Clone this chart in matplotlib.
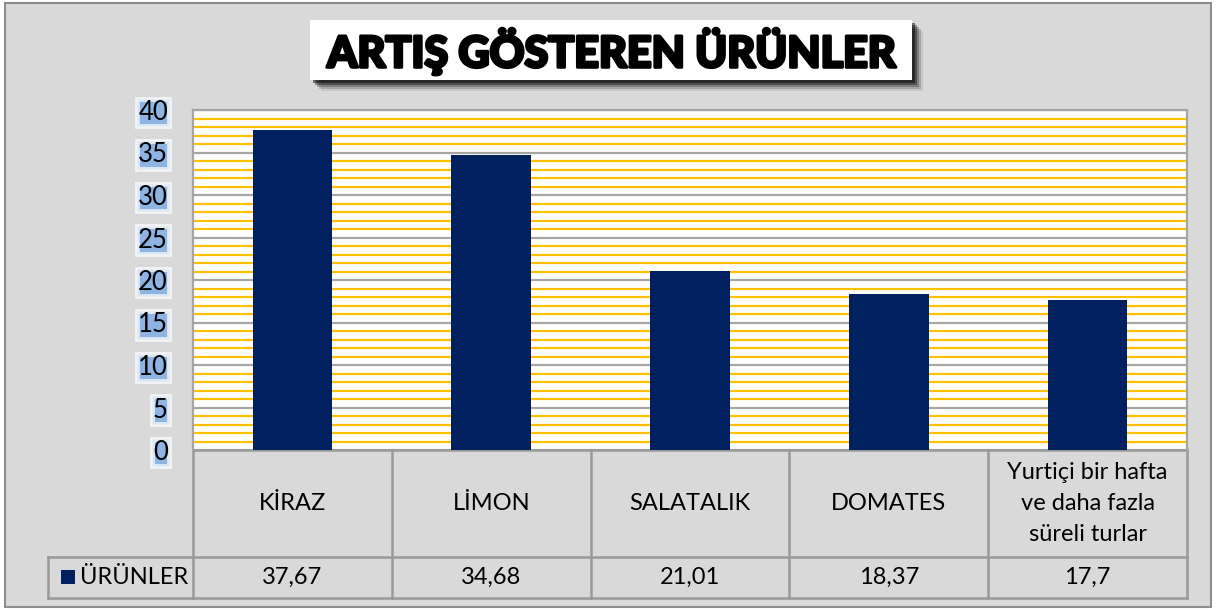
import matplotlib
matplotlib.use("Agg")
import matplotlib.pyplot as plt
import matplotlib.transforms as mtransforms
import matplotlib.patheffects as pe
from matplotlib.patches import Rectangle
from matplotlib.ticker import MultipleLocator

categories = ["KİRAZ", "LİMON", "SALATALIK", "DOMATES", "Yurtiçi bir hafta\nve daha fazla\nsüreli turlar"]
values = [37.67, 34.68, 21.01, 18.37, 17.7]
value_labels = ["37,67", "34,68", "21,01", "18,37", "17,7"]
series_name = "ÜRÜNLER"
title = "ARTIŞ GÖSTEREN ÜRÜNLER"
yticks = [0, 5, 10, 15, 20, 25, 30, 35, 40]

W, H = 1216, 612
BAR = "#002060"
BG = "#d9d9d9"
GRID = "#a6a6a6"
YEL = "#ffc000"
FONT = "Lato"

fig = plt.figure(figsize=(W / 100, H / 100), dpi=100)
fig.patch.set_facecolor("white")

def fx(px):
    return px / W

def fy(py):
    return 1 - py / H

# outer background frame
fig.patches.append(Rectangle((fx(5), fy(607)), fx(1211) - fx(5), fy(3) - fy(607),
                             transform=fig.transFigure, facecolor=BG, edgecolor="#8c8c8c",
                             linewidth=1.5, zorder=-10))

# plot area
L, R, T, B = 193, 1187, 110, 450
ax = fig.add_axes([fx(L), fy(B), fx(R) - fx(L), fy(T) - fy(B)])
ax.set_zorder(5)
ax.set_facecolor("white")
x = list(range(len(categories)))
ax.bar(x, values, width=0.4, color=BAR, zorder=3)
ax.set_xlim(-0.5, len(categories) - 0.5)
ax.set_ylim(0, 40)
ax.yaxis.set_major_locator(MultipleLocator(5))
ax.yaxis.set_minor_locator(MultipleLocator(1))
ax.grid(which="minor", axis="y", color=YEL, linewidth=1.6, zorder=1)
ax.grid(which="major", axis="y", color=GRID, linewidth=1.6, zorder=2)
ax.set_axisbelow(True)
ax.set_xticks([])
ax.set_yticks(yticks)
ax.tick_params(axis="y", which="both", length=0, pad=18)
for lab in ax.get_yticklabels():
    lab.set_fontfamily(FONT)
    lab.set_fontsize(18.5)
    lab.set_color("black")
    lab.set_bbox(dict(facecolor="#8db4e2", edgecolor=(1, 1, 1, 0.7), linewidth=3.5, pad=1.0))
for s in ["top", "left", "right"]:
    ax.spines[s].set_color(GRID)
    ax.spines[s].set_linewidth(1.6)
ax.spines["bottom"].set_visible(False)

# data table under axis
trans = mtransforms.blended_transform_factory(ax.transData, fig.transFigure)
row1_top, row1_bot, row2_bot = 450, 557, 598
leg_left = 48
lc = "#999999"
lw = 1.8
n = len(categories)
TFS = 17
ax.add_line(plt.Line2D([-0.5, n - 0.5], [fy(row1_top)] * 2, transform=trans, color=lc, lw=lw, clip_on=False))
ax.add_line(plt.Line2D([-0.5, n - 0.5], [fy(row2_bot)] * 2, transform=trans, color=lc, lw=lw, clip_on=False))
fig.add_artist(plt.Line2D([fx(leg_left), fx(R)], [fy(row1_bot)] * 2, transform=fig.transFigure, color=lc, lw=lw))
fig.add_artist(plt.Line2D([fx(leg_left), fx(L)], [fy(row2_bot)] * 2, transform=fig.transFigure, color=lc, lw=lw))
fig.add_artist(plt.Line2D([fx(leg_left)] * 2, [fy(row1_bot), fy(row2_bot)], transform=fig.transFigure, color=lc, lw=lw))
for i in range(n + 1):
    ax.add_line(plt.Line2D([i - 0.5] * 2, [fy(row1_top), fy(row2_bot)], transform=trans,
                           color=lc, lw=lw, clip_on=False))
for i, (c, v) in enumerate(zip(categories, value_labels)):
    ax.text(i, fy((row1_top + row1_bot) / 2), c, transform=trans, ha="center", va="center",
            fontsize=TFS, family=FONT, linespacing=1.6, clip_on=False)
    ax.text(i, fy((row1_bot + row2_bot) / 2), v, transform=trans, ha="center", va="center",
            fontsize=TFS, family=FONT, clip_on=False)
# legend key
fig.patches.append(Rectangle((fx(61), fy(584)), fx(14), 14 / H, transform=fig.transFigure,
                             facecolor=BAR, edgecolor="none"))
fig.text(fx(80), fy((row1_bot + row2_bot) / 2), series_name, ha="left", va="center",
         fontsize=TFS, family=FONT)

# title box with shadow
bx0, bx1, by0, by1 = 310, 912, 20, 80
for k, a in [(11, 0.15), (9, 0.3), (7, 0.45), (5, 0.65), (3, 0.9)]:
    fig.patches.append(Rectangle((fx(bx0 + k), fy(by1 + k)), fx(bx1 - bx0), (by1 - by0) / H,
                                 transform=fig.transFigure, facecolor="black", edgecolor="none",
                                 alpha=a * 0.55))
fig.patches.append(Rectangle((fx(bx0), fy(by1)), fx(bx1 - bx0), (by1 - by0) / H,
                             transform=fig.transFigure, facecolor="white", edgecolor="none"))
fig.text(fx((bx0 + bx1) / 2), fy((by0 + by1) / 2 + 1), title, ha="center", va="center",
         fontsize=31, family=FONT, fontweight="black", color="black",
         path_effects=[pe.withStroke(linewidth=2.2, foreground="black")])

fig.savefig("out.png", dpi=100)
